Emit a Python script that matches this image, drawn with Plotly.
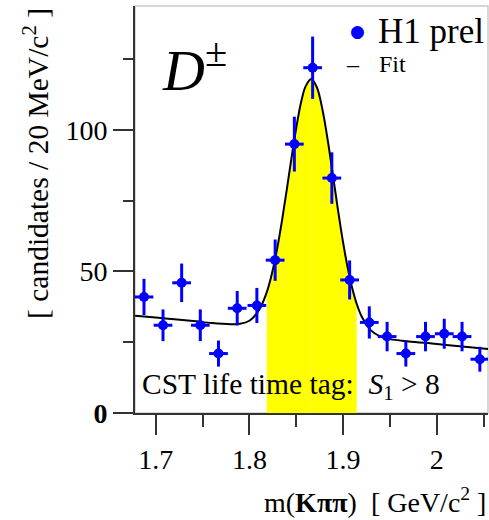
import plotly.graph_objects as go

# measured points (bin centres in GeV/c^2, candidates per 20 MeV/c^2)
mass = [1.6875, 1.7078, 1.7277, 1.7476, 1.767, 1.787, 1.808, 1.8275, 1.848, 1.8675,
        1.888, 1.907, 1.928, 1.947, 1.967, 1.988, 2.008, 2.027, 2.046]
counts = [41, 31, 46, 31, 21, 37, 38, 54, 95, 122, 83, 47, 32, 27, 21, 27, 28, 27, 19]
count_err = [6.4, 5.6, 6.8, 5.6, 4.6, 6.1, 6.2, 7.3, 9.7, 11.0, 9.1, 6.9, 5.7, 5.2,
             4.6, 5.2, 5.3, 5.2, 4.4]
bin_half = [0.01] * len(mass)

# fit curve
fit_mass = [1.678, 1.70, 1.72, 1.74, 1.76, 1.78, 1.79, 1.80, 1.81, 1.8185, 1.825, 1.83,
            1.835, 1.84, 1.845, 1.85, 1.855, 1.86, 1.866, 1.872, 1.878, 1.884, 1.89,
            1.895, 1.90, 1.905, 1.91, 1.9145, 1.92, 1.93, 1.94, 1.95, 1.97, 2.00,
            2.03, 2.056]
fit_vals = [34.4, 33.7, 33.1, 32.5, 31.8, 31.4, 31.5, 32.6, 36.2, 42.6, 50.6, 58.7,
            68.4, 79.1, 90.2, 100.7, 109.5, 115.4, 118.0, 115.1, 107.2, 95.6, 82.1,
            70.8, 60.3, 51.2, 43.8, 38.6, 34.0, 29.1, 27.0, 26.1, 25.3, 24.4,
            23.4, 22.6]
signal_lo, signal_peak, signal_hi = 1.8185, 1.866, 1.9145

x_ticks = [1.7, 1.8, 1.9, 2.0]
x_labels = ["1.7", "1.8", "1.9", "2"]
y_ticks = [0, 50, 100]
y_labels = ["<b>0</b>", "50", "100"]

SERIF = "Liberation Serif, Times New Roman, serif"
L, T, W, H = 135, 6, 353, 407  # plot area in pixels


def px(x):
    return (x - L) / W


def py(y):
    return (T + H - y) / H


def window(lo, hi):
    pts = [(m, v) for m, v in zip(fit_mass, fit_vals) if lo <= m <= hi]
    return [p[0] for p in pts], [p[1] for p in pts]


fig = go.Figure()
# signal window, filled in two halves (leaves the faint seam at the peak)
for lo, hi in [(signal_lo, signal_peak), (signal_peak, signal_hi)]:
    sx, sy = window(lo, hi)
    fig.add_trace(go.Scatter(
        x=sx, y=sy, mode="lines", fill="tozeroy",
        fillcolor="#ffff00", line=dict(width=0, shape="spline"),
        hoverinfo="skip", showlegend=False
    ))
fig.add_trace(go.Scatter(
    x=fit_mass, y=fit_vals, mode="lines",
    line=dict(color="black", width=2, shape="spline"),
    name="Fit", showlegend=False
))
fig.add_trace(go.Scatter(
    x=mass, y=counts, mode="markers",
    marker=dict(color="#0000ff", size=10),
    error_y=dict(type="data", array=count_err, color="#0000ff", thickness=3, width=0),
    error_x=dict(type="data", array=bin_half, color="#0000ff", thickness=3, width=0),
    name="H1 prel", showlegend=False
))

axis_font = dict(family=SERIF, size=28, color="black")
fig.update_layout(
    width=489, height=520,
    margin=dict(l=L, r=489 - L - W, t=T, b=520 - T - H),
    paper_bgcolor="white", plot_bgcolor="white",
    xaxis=dict(
        range=[1.6779, 2.0547], showgrid=False, zeroline=False,
        showline=True, linecolor="#333333", linewidth=2,
        tickvals=x_ticks, ticktext=x_labels, ticks="outside", ticklen=20,
        tickwidth=1.5, tickcolor="#333333", tickfont=axis_font,
        minor=dict(dtick=0.05, tick0=1.7, ticks="outside", ticklen=12,
                   tickwidth=1.5, tickcolor="#333333"),
    ),
    yaxis=dict(
        range=[0, 143.8], showgrid=False, zeroline=False,
        showline=True, linecolor="#333333", linewidth=2,
        tickvals=y_ticks, ticktext=y_labels, ticks="outside", ticklen=20,
        tickwidth=1.5, tickcolor="#333333", tickfont=axis_font,
        minor=dict(dtick=25, tick0=0, ticks="outside", ticklen=10,
                   tickwidth=1.5, tickcolor="#333333"),
    ),
    shapes=[dict(type="rect", xref="paper", yref="paper", x0=0, x1=1, y0=0, y1=1,
                 line=dict(color="#cccccc", width=1.5), layer="below")],
)

notes = [
    dict(text="[ candidates / 20 MeV/c<sup>2</sup> ]", x=px(36), y=py(164),
         textangle=-90, size=29.5, xanchor="center", yanchor="middle"),
    dict(text="m(<b>K\u03c0\u03c0</b>)  [ GeV/c<sup>2</sup> ]", x=px(488), y=py(500),
         size=28, xanchor="right", yanchor="middle"),
    dict(text="<i>D</i><sup>\u00b1</sup>", x=px(160), y=py(66), size=58,
         xanchor="left", yanchor="middle"),
    dict(text="H1 prel", x=px(376), y=py(31), size=35, xanchor="left", yanchor="middle"),
    dict(text="\u2013", x=px(344), y=py(64), size=24, xanchor="left", yanchor="middle"),
    dict(text="Fit", x=px(377), y=py(64), size=24, xanchor="left", yanchor="middle"),
    dict(text="CST life time tag:  <i>S</i><sub>1</sub> &gt; 8", x=px(140), y=py(386),
         size=29.5, xanchor="left", yanchor="middle"),
]
for n in notes:
    fig.add_annotation(
        text=n["text"], x=n["x"], y=n["y"], xref="paper", yref="paper",
        xanchor=n["xanchor"], yanchor=n["yanchor"], showarrow=False,
        textangle=n.get("textangle", 0),
        font=dict(family=SERIF, size=n["size"], color="black"),
    )
fig.add_annotation(
    text="\u25cf", x=px(357), y=py(31), xref="paper", yref="paper",
    showarrow=False, xanchor="center", yanchor="middle",
    font=dict(family="DejaVu Sans", size=17, color="#0000ff"),
)

# the page's default body margin would shift the figure by 8 px
fig.write_html("out.html", config={"displayModeBar": False},
               post_script="document.body.style.margin='0';")
